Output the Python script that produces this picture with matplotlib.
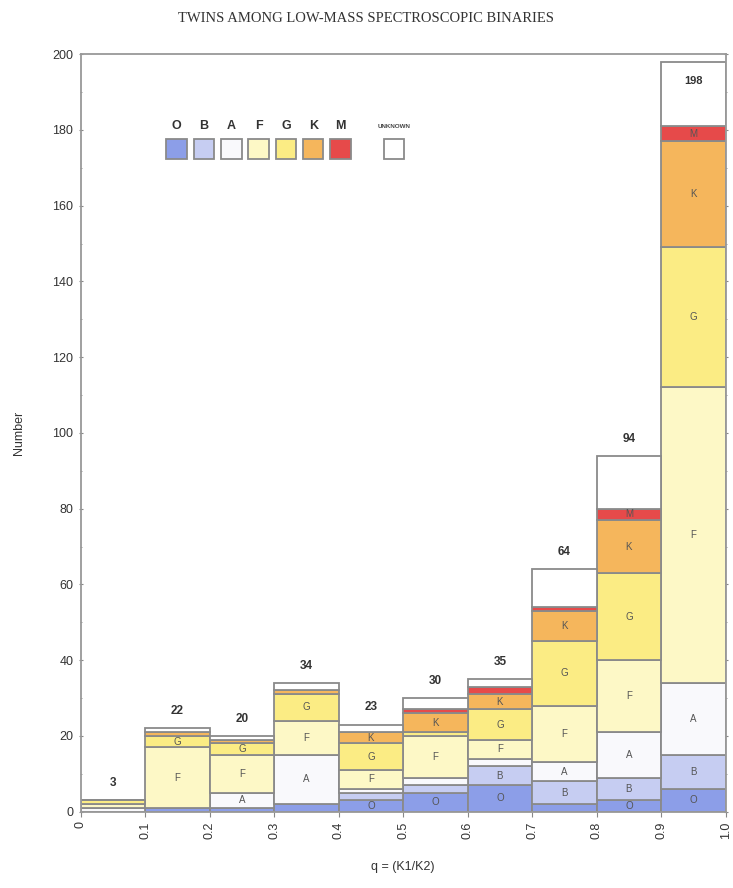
#!/usr/bin/env python

import numpy as np
import matplotlib as mpl
import matplotlib.pyplot as plt
from matplotlib.patches import Rectangle

mpl.rcParams['font.family'] = 'sans-serif'
mpl.rcParams['font.sans-serif'] = ['Liberation Sans', 'DejaVu Sans']

# bins in q = K1/K2
bin_left = np.arange(0.0, 1.0, 0.1)
bin_width = 0.1

# spectral types, bottom to top of each stack
types = ['O', 'B', 'A', 'F', 'G', 'K', 'M', 'UNKNOWN']
O = [0, 1, 1, 2, 3, 5, 7, 2, 3, 6]
B = [0, 0, 0, 0, 2, 2, 5, 6, 6, 9]
A = [1, 0, 4, 13, 1, 2, 2, 5, 12, 19]
F = [1, 16, 10, 9, 5, 11, 5, 15, 19, 78]
G = [1, 3, 3, 7, 7, 1, 8, 17, 23, 37]
K = [0, 1, 1, 1, 3, 5, 4, 8, 14, 28]
M = [0, 0, 0, 0, 0, 1, 2, 1, 3, 4]
U = [0, 1, 1, 2, 2, 3, 2, 10, 14, 17]
totals = [3, 22, 20, 34, 23, 30, 35, 64, 94, 198]

colors = ['#8c9ee8', '#c6cdf2', '#f9f9fc', '#fdf8c6', '#fbec84', '#f5b65c', '#e64a4a', '#ffffff']
edge = '#8a8a8a'

stacks = np.array([O, B, A, F, G, K, M, U], dtype=float)

fig = plt.figure(figsize=(7.33, 8.88), dpi=100)
ax = fig.add_axes([0.110, 0.086, 0.880, 0.853])

bottom = np.zeros(len(bin_left))
for i, t in enumerate(types):
    ax.bar(bin_left, stacks[i], width=bin_width, bottom=bottom, align='edge',
           color=colors[i], edgecolor=edge, linewidth=1.3, zorder=2)
    if t != 'UNKNOWN':
        for j in range(len(bin_left)):
            if stacks[i, j] >= 3:
                ax.text(bin_left[j] + bin_width / 2, bottom[j] + stacks[i, j] / 2, t,
                        ha='center', va='center', fontsize=7, color='#555555', zorder=3)
    bottom += stacks[i]

# totals above bars (last one sits inside the bar)
for j in range(len(bin_left)):
    if totals[j] > 150:
        ax.text(bin_left[j] + bin_width / 2, totals[j] - 5, str(totals[j]),
                ha='center', va='center', fontsize=8, fontweight='bold', color='#333333', zorder=3)
    else:
        ax.text(bin_left[j] + bin_width / 2, totals[j] + 4.5, str(totals[j]),
                ha='center', va='center', fontsize=8.5, fontweight='bold', color='#333333', zorder=3)

# hand-made legend: letters above coloured boxes
for i, t in enumerate(types):
    xc = 0.149 + 0.0423 * i if t != 'UNKNOWN' else 0.486
    ax.add_patch(Rectangle((xc - 0.016, 172.3), 0.032, 5.2, facecolor=colors[i],
                           edgecolor=edge, linewidth=1.3, zorder=3))
    if t == 'UNKNOWN':
        ax.text(xc, 181, t, ha='center', va='center', fontsize=4.5, fontweight='bold', color='#444444')
    else:
        ax.text(xc, 181, t, ha='center', va='center', fontsize=9, fontweight='bold', color='#333333')

ax.set_xlim(0, 1.0)
ax.set_ylim(0, 200)
ax.set_xticks(np.arange(0, 1.01, 0.1))
ax.set_xticklabels(['0', '0.1', '0.2', '0.3', '0.4', '0.5', '0.6', '0.7', '0.8', '0.9', '1.0'],
                   rotation=90, fontsize=9, color='#333333')
ax.set_yticks(np.arange(0, 201, 20))
ax.set_yticks(np.arange(0, 201, 10), minor=True)
ax.tick_params(axis='y', labelsize=9, labelcolor='#333333', right=True, which='both', direction='inout', color='#888888')
ax.tick_params(axis='x', direction='out', color='#888888')
for s in ax.spines.values():
    s.set_color('#999999')
    s.set_linewidth(1.3)

ax.set_xlabel('q = (K1/K2)', fontsize=9, color='#333333', labelpad=16)
ax.set_ylabel('Number', fontsize=9, color='#333333', labelpad=20)

fig.text(0.5, 0.979, 'TWINS AMONG LOW-MASS SPECTROSCOPIC BINARIES', ha='center', va='center',
         family='Liberation Serif', fontsize=10.5, color='#333333')

fig.savefig('out.png')
plt.close('all')
